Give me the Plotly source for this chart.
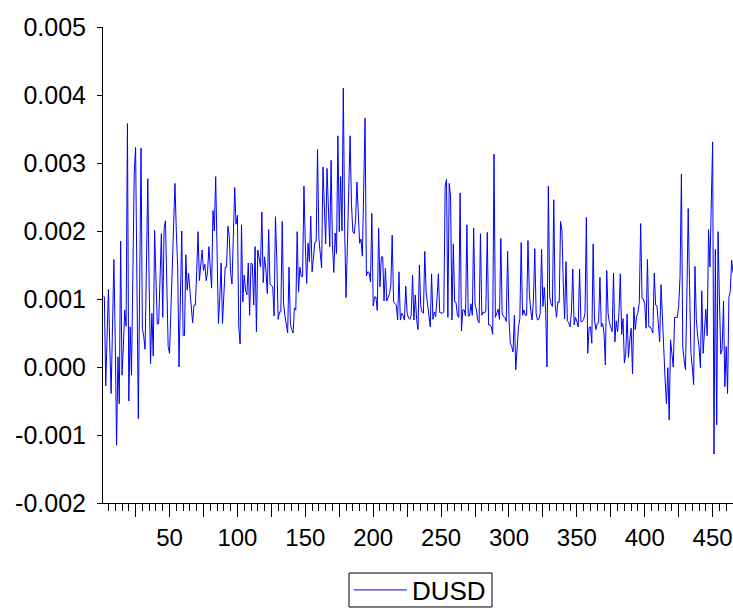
import plotly.graph_objects as go

# DUSD values, in units of 1e-4 (index 1..465)
dusd_e4 = [
    10.5, 10.3, -2.8, 5, 11.4, 3, -3.9, 6, 15.8, 4,
    -11.5, 1.5, -5.4, 18.5, -1.2, 3, 8.4, 6, 35.8, -5,
    5.9, -1.2, 12, 28.5, 32.3, 8, -7.6, 12, 32.2, 5.7,
    4.5, 2.6, 14, 27.7, 12, 0.5, 7.9, 1.6, 20.1, 12,
    6.3, 6.4, 12, 19.6, 7.3, 20.4, 21.5, 12, 3, 2,
    8.4, 15, 22, 27, 20, 14.7, 0, 12, 20, 4.6,
    4.6, 16.5, 11.3, 13.8, 11.4, 10, 6.5, 9.1, 9.1, 14,
    19.9, 12.7, 15, 17.2, 14.2, 15.1, 12.7, 14, 17.7, 14,
    11.6, 23, 20, 28, 18, 6.4, 10, 15.3, 6.4, 10,
    14.7, 14.7, 20.7, 19.2, 13.8, 12.2, 18, 26.4, 21, 22.3,
    5.9, 3.4, 20.9, 9.6, 13.5, 11.3, 10.6, 15.3, 7.6, 15.3,
    15.1, 9.1, 17.7, 5.2, 17.2, 16.2, 14.7, 22.8, 12.4, 16.2,
    14.3, 10.8, 20.2, 12.2, 12, 11.8, 7.5, 22.1, 16, 7,
    8.1, 8.1, 21.4, 9.3, 7.5, 6, 5, 14.7, 6.4, 5.5,
    5, 8.7, 8.4, 19.9, 11, 14.7, 13.3, 13.3, 26.6, 18,
    12.3, 18.2, 15.5, 22.2, 14, 16, 18.3, 18.4, 32, 18.9,
    16, 14.6, 29.4, 22, 18.1, 29.2, 22, 17.7, 30.4, 18,
    13.9, 19.7, 16.7, 34, 19.9, 28, 20, 41, 20.1, 10.2,
    18, 25, 34, 24, 19.9, 19.6, 21.6, 27.2, 22, 18.2,
    18.8, 16.3, 26, 36.6, 13.4, 14, 13.9, 12.5, 22.6, 9,
    10.3, 10.3, 8.3, 20.4, 11.8, 16.2, 16.2, 9.7, 14.5, 9.7,
    10.2, 10.8, 12, 19.4, 9.6, 9.3, 9.1, 6.9, 14, 6.9,
    7.9, 7.6, 6.9, 11.9, 7.9, 7.2, 7, 7.6, 13.5, 6.9,
    10.6, 7, 5.5, 15, 9, 8.1, 7.9, 17, 11, 9.3,
    7, 5.9, 13.7, 7, 8.1, 7.4, 10, 13.7, 8, 7.9,
    7.9, 8.1, 26.6, 27.6, 7.3, 27, 25, 6.9, 18.1, 9.6,
    9.5, 7.6, 7.3, 25.6, 5.3, 8.4, 8.4, 7.5, 20.9, 7.5,
    7.5, 9.3, 7.6, 20.4, 9.3, 8.4, 6.9, 6.5, 19.6, 7.6,
    8.1, 7.9, 8.4, 19.8, 6.2, 6.2, 5.9, 4.8, 31.3, 7.3,
    8, 8.5, 7, 18.9, 7.9, 7.4, 7.3, 6.7, 17, 7.1,
    3.5, 3, 2.2, 7.6, -0.4, 2.7, 5.9, 7.1, 18.3, 7.6,
    8.4, 7.6, 7.6, 18.6, 10.8, 8.4, 6.9, 9.8, 17.4, 7.9,
    6.9, 7, 7.9, 17.3, 8.9, 11.7, 8.4, 0, 26.6, 10.3,
    9.3, 8.9, 24.6, 9.3, 7.3, 9.6, 9.5, 21.4, 20.1, 12.3,
    7.1, 15.5, 6.8, 6.5, 5.9, 8.1, 14.4, 6.2, 7.3, 6.7,
    5.9, 14.4, 6.7, 6.7, 7, 7.9, 22, 2, 5.8, 5.9,
    3.5, 18.1, 6.9, 5.5, 6.4, 6.5, 13.2, 5.9, 6.4, 5,
    0.3, 14.2, 7.9, 6.5, 5.8, 5.2, 13.8, 3.7, 6.8, 5.2,
    7.9, 13.7, 4.8, 7.1, 0.6, 2, 7.8, 1.4, 4, 5.7,
    -1, 8.8, 5.5, 7.4, 8, 9.5, 21.1, 10.1, 10, 9.3,
    5.7, 15.8, 5.9, 5.9, 5.5, 5, 13.8, 9.1, 9, 6,
    3.7, 12.1, 7, 3, -1.9, -5.4, -0.1, -7.8, 4, 2,
    0, 7.3, 7.3, 7.3, 9, 13.3, 28.4, 3, 1, -0.4,
    10, 23.3, 12, 2.1, 0, -2.6, 14.8, 7, 4.5, 3,
    -0.1, 11.2, 2, 6, 8.5, 4.6, 20.2, 14.7, 26.3, 33.1,
    -12.8, 17.3, -8.5, 19.9, 10, 1.9, 2.6, 9.7, -2.9, 3,
    -3.9, 10.3, 11.1, 15.7, 13.8,
]
obs = list(range(1, len(dusd_e4) + 1))
dusd = [v * 1e-4 for v in dusd_e4]

x_tickvals = list(range(25, 451, 25))
x_ticktext = [str(v) if v % 50 == 0 else "" for v in x_tickvals]
y_tickvals = [0.005, 0.004, 0.003, 0.002, 0.001, 0.0, -0.001, -0.002]
y_ticktext = ["0.005", "0.004", "0.003", "0.002", "0.001", "0.000", "-0.001", "-0.002"]

FONT = "Liberation Sans, Arial, sans-serif"

fig = go.Figure()
fig.add_trace(go.Scatter(x=obs, y=dusd, mode="lines", name="DUSD",
                         line=dict(color="#0000FF", width=1)))

# legend frame (layout decoration, paper coordinates)
fig.add_shape(type="rect", xref="paper", yref="paper",
              x0=0.3905, x1=0.6175, y0=-0.2185, y1=-0.1471,
              line=dict(color="black", width=1), fillcolor="rgba(0,0,0,0)")

fig.update_layout(
    width=733, height=620,
    margin=dict(l=103, r=0, t=27, b=117),
    plot_bgcolor="white", paper_bgcolor="white",
    font=dict(family=FONT, size=24, color="black"),
    showlegend=True,
    legend=dict(orientation="h", x=0.503, xanchor="center", y=-0.1828, yanchor="middle",
                borderwidth=0, bgcolor="rgba(0,0,0,0)",
                font=dict(family=FONT, size=26, color="black"), itemwidth=53),
    xaxis=dict(range=[1, len(obs)], tickmode="array", tickvals=x_tickvals, ticktext=x_ticktext,
               ticks="outside", ticklen=13, tickcolor="black", tickwidth=1, automargin=False,
               tickfont=dict(family=FONT, size=24, color="black"),
               showline=True, linecolor="black", linewidth=1, showgrid=False, zeroline=False,
               minor=dict(tick0=0, dtick=5, ticks="outside", ticklen=7, tickcolor="black",
                          tickwidth=1, showgrid=False)),
    yaxis=dict(range=[-0.002, 0.005], tickmode="array", tickvals=y_tickvals, ticktext=y_ticktext,
               ticks="outside", ticklen=5, tickcolor="black", tickwidth=1, automargin=False,
               tickfont=dict(family=FONT, size=25, color="black"), ticklabelstandoff=6,
               showline=True, linecolor="black", linewidth=1, showgrid=False, zeroline=False),
)

fig.write_html("out.html", config={"displayModeBar": False},
               post_script="document.body.style.margin='0';document.body.style.overflow='hidden';")
